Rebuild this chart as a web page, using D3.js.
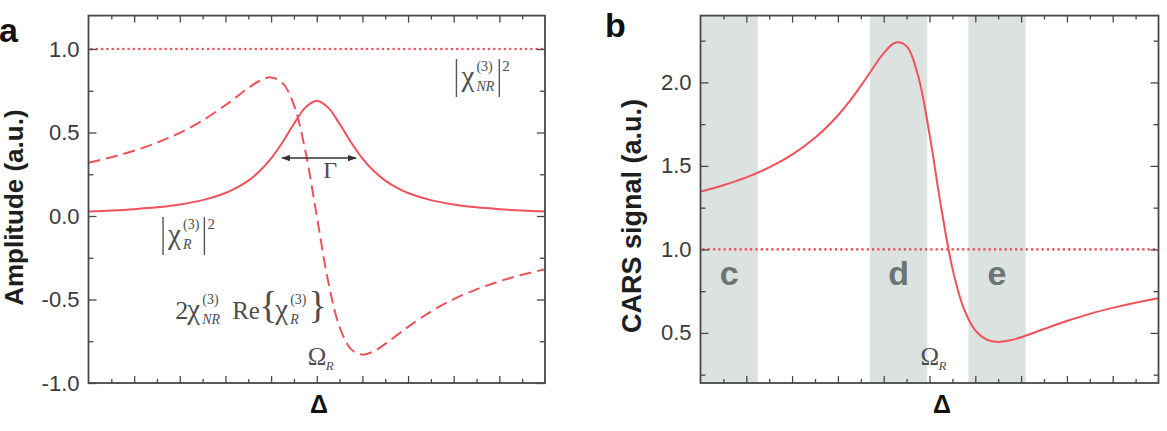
<!DOCTYPE html>
<html>
<head>
<meta charset="utf-8">
<script src="https://cdn.jsdelivr.net/npm/d3@7"></script>
<style>
body{margin:0;background:#fff;}
svg text{font-family:"Liberation Sans",Arial,sans-serif;}
text.math{font-family:"Liberation Serif","Times New Roman",serif;fill:#4d4d4d;}
</style>
</head>
<body>
<div id="chart"></div>
<script>
// detuning from the Raman resonance (same grid for every curve)
const delta = [-5,-4.5,-4,-3.5,-3,-2.5,-2,-1.75,-1.5,-1.25,-1,-0.75,-0.5,-0.25,0,
               0.25,0.5,0.75,1,1.25,1.5,1.75,2,2.5,3,3.5,4,4.5,5];
// panel a, solid: |chi_R|^2
const resonant = [0.027,0.033,0.041,0.052,0.069,0.095,0.138,0.170,0.212,0.269,0.345,0.442,0.552,0.649,0.690,
                  0.649,0.552,0.442,0.345,0.269,0.212,0.170,0.138,0.095,0.069,0.052,0.041,0.033,0.027];
// panel a, dashed: 2 chi_NR Re{chi_R}
const mixing = [0.319,0.352,0.391,0.439,0.498,0.572,0.664,0.715,0.766,0.810,0.830,0.797,0.664,0.391,0.0,
                -0.391,-0.664,-0.797,-0.830,-0.810,-0.766,-0.715,-0.664,-0.572,-0.498,-0.439,-0.391,-0.352,-0.319];
// panel a, dotted: |chi_NR|^2 ; panel b, dotted reference level
const nonresonant = 1.0;
// panel b: CARS signal
const cars = [1.346,1.384,1.431,1.491,1.567,1.668,1.802,1.885,1.979,2.079,2.175,2.238,2.216,2.040,1.690,
              1.259,0.888,0.645,0.515,0.460,0.446,0.455,0.474,0.523,0.571,0.614,0.650,0.681,0.707];
// shaded windows in panel b
const bands = [[-5,-3.75],[-1.3,-0.05],[0.85,2.1]];
const bandNames = ["c","d","e"];
// ticks
const xMajor = [-4,-3,-2,-1,0,1,2,3,4];
const xMinor = [-4.5,-3.5,-2.5,-1.5,-0.5,0.5,1.5,2.5,3.5,4.5];
const yMajorA = [-1,-0.5,0,0.5,1];
const yMinorA = [-0.75,-0.25,0.25,0.75];
const yMajorB = [0.5,1,1.5,2];
const yMinorB = [0.25,0.75,1.25,1.75,2.25];

const W = 1167, H = 431;
const red = "#f0525c", axisCol = "#484848";

const svg = d3.select("#chart").append("svg")
	.attr("width", W)
	.attr("height", H);

const xA = d3.scaleLinear().domain([-5,5]).range([88.5,545]);
const yA = d3.scaleLinear().domain([-1,1.2]).range([383,15.6]);
const xB = d3.scaleLinear().domain([-5,5]).range([700.5,1158.5]);
const yB = d3.scaleLinear().domain([0.2,2.4]).range([383,15.6]);

function frame(x, y, yMajor, yMinor) {
	const g = svg.append("g").attr("color", axisCol);
	const [x0,x1] = x.range(), [y0,y1] = y.range();
	const ax = [
		[d3.axisBottom(x).tickValues(xMajor).tickSize(-7), `translate(0,${y0})`],
		[d3.axisBottom(x).tickValues(xMinor).tickSize(-4), `translate(0,${y0})`],
		[d3.axisTop(x).tickValues(xMajor).tickSize(-7), `translate(0,${y1})`],
		[d3.axisTop(x).tickValues(xMinor).tickSize(-4), `translate(0,${y1})`],
		[d3.axisRight(y).tickValues(yMajor).tickSize(-8), `translate(${x1},0)`],
		[d3.axisRight(y).tickValues(yMinor).tickSize(-5), `translate(${x1},0)`],
		[d3.axisLeft(y).tickValues(yMinor).tickSize(-5), `translate(${x0},0)`]
	];
	ax.forEach(([a,t]) => {
		g.append("g").attr("transform", t).call(a.tickFormat("").tickSizeOuter(0))
			.call(s => s.select(".domain").remove())
			.selectAll("line").attr("stroke-width",1.3);
	});
	g.append("g").attr("transform", `translate(${x0},0)`)
		.call(d3.axisLeft(y).tickValues(yMajor).tickSize(-8).tickPadding(9).tickSizeOuter(0)
			.tickFormat(d => d.toFixed(1)))
		.call(s => s.select(".domain").remove())
		.call(s => s.selectAll("line").attr("stroke-width",1.3))
		.selectAll("text")
		.attr("font-size", 22)
		.attr("font-family", "'Liberation Sans',Arial,sans-serif")
		.attr("fill", "#3a3a3a");
	g.append("rect")
		.attr("x", x0).attr("y", y1)
		.attr("width", x1-x0).attr("height", y0-y1)
		.attr("fill", "none")
		.attr("stroke", axisCol)
		.attr("stroke-width", 1.8);
}

function curve(x, y, values, dash) {
	const line = d3.line()
		.x((d,i) => x(delta[i]))
		.y(d => y(d))
		.curve(d3.curveCatmullRom.alpha(0.5));
	svg.append("path")
		.attr("d", line(values))
		.attr("fill", "none")
		.attr("stroke", red)
		.attr("stroke-width", 2)
		.attr("stroke-dasharray", dash || null);
}

function dotted(x, y, v) {
	svg.append("line")
		.attr("x1", x.range()[0]+3).attr("x2", x.range()[1])
		.attr("y1", y(v)).attr("y2", y(v))
		.attr("stroke", red)
		.attr("stroke-width", 2.6)
		.attr("stroke-linecap", "round")
		.attr("stroke-dasharray", "0,5.3");
}

function txt(x, y, s, size, cls) {
	return svg.append("text")
		.attr("class", cls || null)
		.attr("x", x).attr("y", y)
		.attr("font-size", size)
		.text(s);
}

// chi with stacked (3) and subscript; returns x after the scripts
function chi(x, y, sub) {
	txt(x, y, "χ", 29, "math");
	const sup = txt(x+15, y-15, "(3)", 14, "math");
	const sb = txt(x+15, y+5, sub, 14, "math").attr("font-style","italic");
	return x + 15 + Math.max(sup.node().getComputedTextLength(), sb.node().getComputedTextLength());
}

function absChi(x, y, sub) {
	const bar = bx => svg.append("line")
		.attr("x1", bx).attr("x2", bx)
		.attr("y1", y-27).attr("y2", y+11)
		.attr("stroke", "#555").attr("stroke-width", 1.4);
	bar(x);
	const end = chi(x+5, y, sub);
	bar(end+5);
	txt(end+8, y-15, "2", 15, "math");
}

// ---------- panel a ----------
dotted(xA, yA, nonresonant);
curve(xA, yA, resonant);
curve(xA, yA, mixing, "12,6");
frame(xA, yA, yMajorA, yMinorA);

// Gamma: full width of the resonance
const gy = yA(0.347);
svg.append("defs").append("marker")
	.attr("id", "ah").attr("viewBox", "0 0 10 10")
	.attr("refX", 9).attr("refY", 5)
	.attr("markerWidth", 9).attr("markerHeight", 9)
	.attr("markerUnits", "userSpaceOnUse")
	.attr("orient", "auto-start-reverse")
	.append("path").attr("d", "M0,1.5L10,5L0,8.5z").attr("fill", "#333");
svg.append("line")
	.attr("x1", xA(-0.76)).attr("x2", xA(0.86))
	.attr("y1", gy).attr("y2", gy)
	.attr("stroke", "#333").attr("stroke-width", 1.5)
	.attr("marker-start", "url(#ah)").attr("marker-end", "url(#ah)");
txt(xA(0.14), gy+20, "Γ", 24, "math");

absChi(xA(3.06), yA(0.778), "NR");
absChi(xA(0.62)-182, yA(-0.168), "R");

// 2 chi_NR Re{chi_R}
{
	const y = yA(-0.614), x = xA(-3.1);
	txt(x, y, "2", 26, "math");
	const e1 = chi(x+12, y, "NR");
	txt(e1+12, y, "Re", 25, "math");
	txt(e1+39, y-1, "{", 38, "math");
	const e2 = chi(e1+55, y, "R");
	txt(e2+2, y-1, "}", 38, "math");
}

txt(xA(0)-9, 365, "Ω", 25, "math");
txt(xA(0)+9, 370, "R", 13, "math").attr("font-style","italic");
txt(xA(0.05), 413, "Δ", 25).attr("font-weight","bold").attr("text-anchor","middle").attr("fill","#111");
txt(-1, 42, "a", 34).attr("font-weight","bold").attr("fill","#111");

svg.append("text")
	.attr("transform", `translate(23,${yA(0.05)}) rotate(-90)`)
	.attr("text-anchor", "middle")
	.attr("font-size", 26)
	.attr("font-weight", "bold")
	.attr("fill", "#1e1e1e")
	.text("Amplitude (a.u.)");

// ---------- panel b ----------
svg.append("g").selectAll("rect")
	.data(bands)
	.join("rect")
	.attr("x", d => xB(d[0]))
	.attr("width", d => xB(d[1]) - xB(d[0]))
	.attr("y", yB.range()[1])
	.attr("height", yB.range()[0] - yB.range()[1])
	.attr("fill", "#dce2e0");
svg.append("g").selectAll("text")
	.data(bands)
	.join("text")
	.attr("x", d => xB((d[0]+d[1])/2))
	.attr("y", yB(0.784))
	.attr("text-anchor", "middle")
	.attr("font-size", 34)
	.attr("font-weight", "bold")
	.attr("fill", "#6b7572")
	.text((d,i) => bandNames[i]);

dotted(xB, yB, nonresonant);
curve(xB, yB, cars);
frame(xB, yB, yMajorB, yMinorB);

txt(xB(0)-9, 365, "Ω", 25, "math");
txt(xB(0)+9, 370, "R", 13, "math").attr("font-style","italic");
txt(xB(0.27), 413, "Δ", 25).attr("font-weight","bold").attr("text-anchor","middle").attr("fill","#111");
txt(605, 37, "b", 34).attr("font-weight","bold").attr("fill","#111");

svg.append("text")
	.attr("transform", `translate(641,${yB(1.2)}) rotate(-90)`)
	.attr("text-anchor", "middle")
	.attr("font-size", 27)
	.attr("font-weight", "bold")
	.attr("fill", "#1e1e1e")
	.text("CARS signal (a.u.)");
</script>
</body>
</html>
